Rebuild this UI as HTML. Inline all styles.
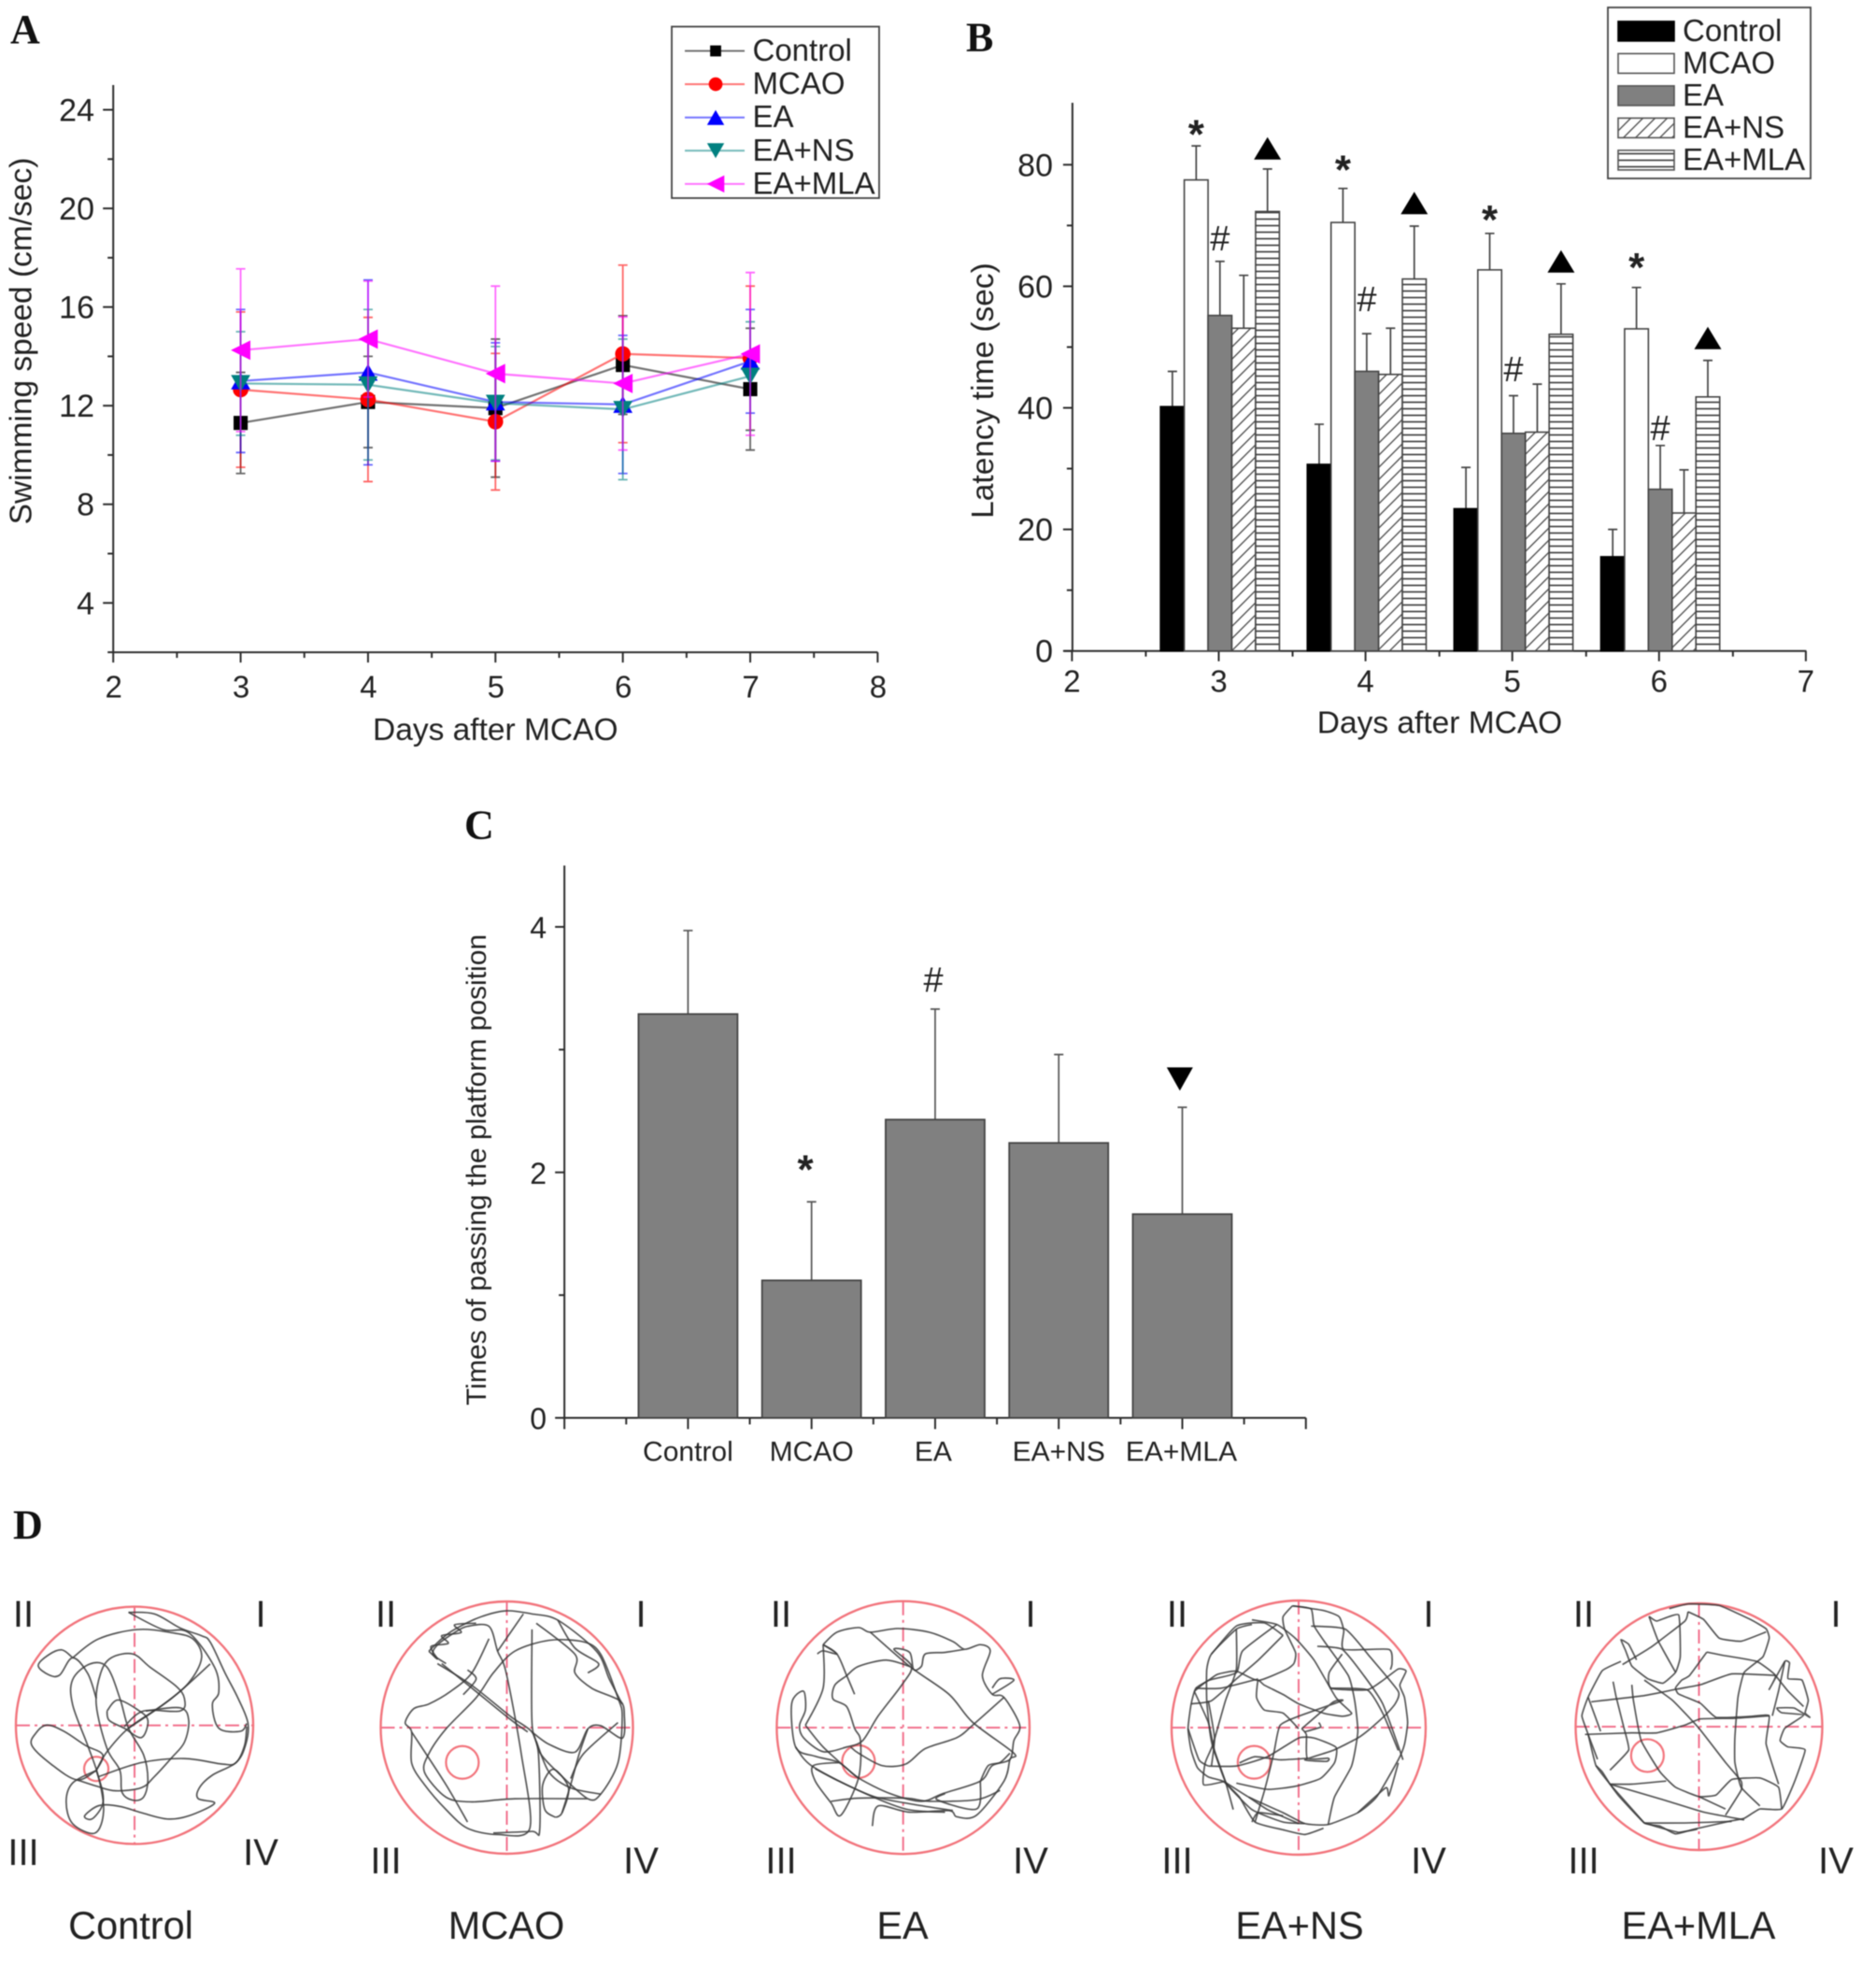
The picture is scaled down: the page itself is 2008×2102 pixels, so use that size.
<!DOCTYPE html>
<html lang="en">
<head>
<meta charset="utf-8">
<title>Behavioural test figure: panels A to D</title>
<style>
html,body{margin:0;padding:0;background:#fff;}
#figure{display:block;width:2008px;height:2102px;filter:blur(0.55px);}
text{font-family:"Liberation Sans",sans-serif;fill:#222;}
.panel{font-family:"Liberation Serif",serif;font-weight:bold;font-size:44px;fill:#111;}
</style>
</head>
<body>
<svg id="figure" xmlns="http://www.w3.org/2000/svg" width="2008" height="2102" viewBox="0 0 2008 2102">
<defs>
<pattern id="hatch-diag" patternUnits="userSpaceOnUse" width="13" height="13">
<rect width="13" height="13" fill="#fff"/>
<path d="M-2 15L15 -2M-8 8L8 -8M5 21L21 5" stroke="#555" stroke-width="1.4" fill="none"/>
</pattern>
<pattern id="hatch-horiz" patternUnits="userSpaceOnUse" width="8" height="7">
<rect width="8" height="7" fill="#fff"/>
<path d="M0 3.5H8" stroke="#444" stroke-width="1.7" fill="none"/>
</pattern>
</defs>
<rect width="2008" height="2102" fill="#fff"/>
<text class="panel" x="11" y="46">A</text>
<text class="panel" x="1034" y="54.5">B</text>
<text class="panel" x="497" y="897.5">C</text>
<text class="panel" x="14" y="1646.5">D</text>
<g id="panel-a"></g>
<g id="panel-b"></g>
<g id="panel-c"></g>
<g id="panel-d"></g>
</svg>
<script>
/* ---------- Panel A data ---------- */
const speedDays = [3, 4, 5, 6, 7];
const groupNames = ['Control', 'MCAO', 'EA', 'EA+NS', 'EA+MLA'];
const speedControl = [11.3, 12.15, 11.9, 13.65, 12.67];
const speedMcao = [12.65, 12.25, 11.35, 14.1, 13.93];
const speedEa = [13.0, 13.35, 12.15, 12.05, 13.8];
const speedNs = [12.9, 12.85, 12.1, 11.85, 13.2];
const speedMla = [14.25, 14.7, 13.3, 12.9, 14.1];
const speedControlErr = [2.05, 1.85, 2.8, 2.0, 2.47];
const speedMcaoErr = [3.15, 3.33, 2.77, 3.6, 2.92];
const speedEaErr = [2.9, 3.75, 2.4, 2.8, 2.1];
const speedNsErr = [2.1, 3.05, 2.3, 2.85, 2.2];
const speedMlaErr = [3.3, 2.35, 3.55, 2.7, 3.3];
const speedXTicks = [2, 3, 4, 5, 6, 7, 8];
const speedYTicks = [4, 8, 12, 16, 20, 24];
const speedYMinor = [2, 6, 10, 14, 18, 22];

/* ---------- Panel B data ---------- */
const latencyDays = [3, 4, 5, 6];
const latencyControl = [40.2, 30.7, 23.4, 15.5];
const latencyMcao = [77.5, 70.5, 62.7, 53.0];
const latencyEa = [55.2, 46.0, 35.8, 26.6];
const latencyNs = [53.1, 45.5, 36.0, 22.7];
const latencyMla = [72.3, 61.2, 52.1, 41.8];
const latencyControlTop = [46.0, 37.3, 30.2, 20.0];
const latencyMcaoTop = [83.1, 76.1, 68.7, 59.8];
const latencyEaTop = [64.1, 52.2, 42.0, 33.8];
const latencyNsTop = [61.8, 53.1, 43.9, 29.8];
const latencyMlaTop = [79.3, 69.9, 60.4, 47.8];
const latencyStarAt = [86.6, 80.7, 72.5, 64.7];
const latencyHashAt = [67.9, 57.9, 46.4, 36.7];
const latencyTriangleAt = [82.7, 73.7, 64.1, 51.5];
const latencyXTicks = [2, 3, 4, 5, 6, 7];
const latencyYTicks = [0, 20, 40, 60, 80];
const latencyYMinor = [10, 30, 50, 70];

/* ---------- Panel C data ---------- */
const crossingValues = [3.29, 1.12, 2.43, 2.24, 1.66];
const crossingTops = [3.97, 1.76, 3.33, 2.96, 2.53];
const crossingYTicks = [0, 2, 4];
const crossingYMinor = [1, 3];

/* ---------- Panel D tracked paths (tracker image coordinates) ---------- */
const controlTrack = [
 [300,345,360,350,420,395,470,420,490,440,525,540,555,620,578,700,572,770,550,825,495,865,465,905,462,940,500,955,440,995,390,1005,330,985,280,965,232,962,198,995,215,1005,238,965,240,920,225,850],
 [225,850,170,890,155,950,170,1020,222,1050,242,980,230,870,205,770,170,640,170,560,210,510,250,520,280,620,300,715,335,800,345,880,335,935,310,945,285,920,280,850,250,780,225,640,235,540,260,490,310,478,350,520,410,580,430,620,420,660,335,660,290,710],
 [225,850,180,880,120,830,75,770,85,730,110,705,150,725,200,770,240,800,225,850],
 [170,490,145,465,115,480,90,515,115,545,140,545,170,490,205,540,225,620],
 [170,490,230,430,320,400,400,410,450,430,470,490,440,570,380,640,300,715,250,790,225,850],
 [300,345,380,400,440,410,500,520,510,600,495,640,510,715,560,725,575,700],
 [250,660,275,625,320,655,345,690,330,745,290,715,255,690,250,660],
 [340,660,420,650,440,690,430,760,400,810,360,870,330,905,270,915,225,900,180,880],
 [300,715,400,620,490,510],
 [230,870,330,825,430,812,520,830,550,825,570,770,575,710]
];
const mcaoTrack = [
 [1295,1005,1270,980,1265,900,1290,850,1325,910,1310,990,1295,1005],
 [1020,510,1100,580,1190,680,1240,730,1260,800,1300,860,1370,945,1400,930,1440,830,1450,680,1440,620,1400,480,1360,440,1280,435,1200,470,1150,540,1110,620,1040,720,1000,800,990,860,1040,940,1100,955,1200,945,1370,945],
 [1000,470,1030,430,1060,400,1120,360,1180,340,1240,350,1300,370,1390,470,1420,560,1450,640],
 [1040,510,1010,480,1020,450,1060,410,1090,390,1140,390,1160,470,1180,540,1215,800,1235,1040,1160,1060,1090,1040,1040,980,990,900,960,830,960,730,945,700,965,655,1000,640,1050,600,1100,540,1140,430],
 [1240,400,1240,700,1255,800,1258,1045,1240,1050,1150,1055],
 [960,730,1040,900,1090,1020],
 [1250,380,1340,480,1340,540,1380,590,1445,630,1455,680,1450,750,1400,710,1370,720,1340,795,1280,770,1240,730],
 [1370,720,1350,800,1330,900,1310,990],
 [1300,370,1340,460,1395,510,1370,540],
 [1000,470,1020,495,1005,455,1045,445,1030,420,1075,410,1060,385,1110,380],
 [1030,510,1110,600,1190,690,1230,730],
 [1080,610,1110,560,1090,530],
 [1160,470,1220,350],
 [1440,700,1360,800,1330,880],
 [1250,760,1280,860,1330,910,1400,930]
];
const eaTrack = [
 [430,210,465,170,520,155,550,170,620,158,700,170,760,200,790,225,830,210,855,230,835,310,860,370,890,380,930,470,915,520,905,580,860,600,830,650,735,690,680,715,600,690,520,640,470,590,410,570,360,540,350,400,380,360,385,420,370,470,380,510,430,555,490,540,530,520,570,440,630,340,655,280,610,225,650,235,660,290,680,280,690,240,740,235,790,225],
 [650,280,590,260,520,280,490,310,460,340,455,385,490,410,510,480,525,520,520,640,475,760,450,720,410,650,405,600,470,590],
 [550,170,650,280,750,370,810,460,915,560,905,580,890,650,820,760,770,765,750,745,650,750,570,730,555,795],
 [430,210,465,240,490,310,510,370],
 [430,210,430,350,385,470],
 [450,715,520,705,640,705,700,715,820,710,880,680],
 [860,370,915,325,880,320,860,350],
 [890,380,810,470,770,510,690,545,640,595,580,600,520,560,500,540],
 [415,240,430,230,465,240,430,210],
 [410,610,470,650,560,700,660,725,760,745],
 [360,540,400,600,520,680,640,740,740,750],
 [385,470,430,540,500,620,520,640],
 [830,650,850,600,880,590,905,560],
 [740,690,720,710,820,740,830,650]
];
const nsTrack = [
 [430,25,400,60,405,100,440,175,435,210,410,230,320,265,250,235,190,245,160,265,120,290,105,340,95,420,105,490,125,545,160,575,210,590,290,640,400,690,470,725,545,728,640,690,700,640,770,520,790,470,800,400,790,320,775,280,795,235,770,228,720,265,670,295,555,290,548,240,590,180],
 [430,25,490,35,500,90,540,150,610,250,630,330,640,430,620,540,565,640,545,728],
 [430,25,530,40,580,60,595,105,595,165,740,165,750,210,745,230],
 [510,155,590,165,660,250,720,340,775,490,785,520],
 [490,90,600,100,680,190,770,300,760,340,730,375,680,420,640,450,560,490,470,520,540,525,545,515,478,515,475,440,460,420],
 [300,85,250,100,170,180,155,230,155,330,165,430,175,480,215,590,260,640,310,720,400,745,470,760,530,740],
 [300,70,380,85,440,130,500,200,570,320,620,370,590,380,530,370,450,340,400,310,340,280,320,265,315,320,340,360,400,370,450,420],
 [250,100,250,230,215,330,175,470,150,530,145,600,210,590],
 [115,300,160,400,180,490,215,590,240,680],
 [380,85,270,170,250,240,160,265,115,300],
 [170,180,250,90,340,80,400,120],
 [460,420,560,335,590,330,450,380,390,410,370,500,340,620,310,720],
 [160,540,250,540,350,510,450,450,500,450,570,480,565,530,520,580,440,605,350,615,250,595],
 [470,430,520,415,515,400],
 [260,530,310,510,390,520,480,515],
 [290,640,350,680,450,725],
 [640,690,730,610,740,635,770,530],
 [105,340,170,330,250,260,320,200,400,120],
 [120,290,200,290,320,260],
 [95,420,130,520,160,540],
 [160,330,180,450,170,540],
 [210,590,300,680,400,720,470,725],
 [550,290,670,295,720,370,770,490],
 [300,720,320,690,400,700]
];
const mlaTrack = [
 [380,45,370,75,260,160,170,215],
 [320,35,380,20,480,25,580,70,630,100,640,130,620,190,560,240,540,320,530,450,530,530,550,610,610,670],
 [380,45,430,70,480,130,550,140,630,110],
 [255,60,280,75,350,55,355,190,340,240,300,275,250,260,200,220,180,170,165,135,190,150,215,200],
 [255,60,285,140,340,240],
 [440,175,490,185,600,205,660,250,640,295,690,205,705,210,700,260,745,265,765,330,755,370,770,385,720,355,665,355,680,370,750,378,690,420,675,460,700,480,755,490,720,595,680,680,610,680,560,710,510,720,400,745,340,760,290,735,240,725,160,640,130,600,85,540,60,440,40,380,60,320,105,235,165,205],
 [440,175,385,250,360,265,340,290,350,310,420,340,470,385,580,382,640,380,630,470,670,600],
 [660,250,520,245,420,280,340,295,240,315,70,335],
 [50,440,200,435,280,435,370,410,420,390,530,388,640,380],
 [200,280,205,330,230,460,290,560,340,610,415,640,470,635,520,585,610,580,670,610,680,680],
 [140,270,150,320,175,420,190,490,130,555],
 [240,265,330,330,415,420,500,530,550,590,550,620,500,700],
 [130,600,200,600,310,590],
 [130,600,300,650,430,690,560,715],
 [240,725,370,725,520,720],
 [415,640,500,680],
 [85,540,105,560,130,600],
 [60,320,100,430],
 [240,725,290,740,350,755,410,745],
 [130,600,240,725],
 [660,250,700,300,750,350],
 [690,205,670,300,650,380],
 [60,440,90,520]
];
const trackSets = [controlTrack, mcaoTrack, eaTrack, nsTrack, mlaTrack];
const platformX = [225, 1078, 520, 307, 250];
const platformY = [845, 828, 587, 528, 508];
const trackerXMin = [38, 888, 312, 42, 20];
const trackerXMax = [590, 1475, 955, 858, 810];
const trackerYMin = [327, 310, 70, 8, 18];
const trackerYMax = [1085, 1122, 885, 825, 812];
const quadrantLabels = ['II', 'I', 'III', 'IV'];

/* ---------- helpers ---------- */
const SVGNS = 'http://www.w3.org/2000/svg';
function mk(tag, attrs, parent, txt) {
  const node = document.createElementNS(SVGNS, tag);
  for (const k in attrs) node.setAttribute(k, attrs[k]);
  if (txt !== undefined) node.textContent = txt;
  parent.appendChild(node);
  return node;
}
function linear(d0, d1, r0, r1) {
  return function (v) { return r0 + (v - d0) * (r1 - r0) / (d1 - d0); };
}
function trianglePoints(cx, cy, w, h, down) {
  const dir = down ? -1 : 1;
  return (cx - w / 2) + ',' + (cy + dir * h / 2) + ' ' + (cx + w / 2) + ',' + (cy + dir * h / 2) + ' ' + cx + ',' + (cy - dir * h / 2);
}
function axisLine(parent, x1, y1, x2, y2, w) {
  return mk('line', {x1: x1, y1: y1, x2: x2, y2: y2, stroke: '#2c2c2c', 'stroke-width': w || 2}, parent);
}
/* Catmull-Rom smoothing so hand-read track samples read as a curved swim path */
function smoothPath(xs, ys, tension) {
  let d = 'M' + xs[0] + ' ' + ys[0];
  const n = xs.length;
  for (let i = 0; i < n - 1; i++) {
    const i0 = Math.max(0, i - 1), i3 = Math.min(n - 1, i + 2);
    const c1x = xs[i] + (xs[i + 1] - xs[i0]) * tension / 6;
    const c1y = ys[i] + (ys[i + 1] - ys[i0]) * tension / 6;
    const c2x = xs[i + 1] - (xs[i3] - xs[i]) * tension / 6;
    const c2y = ys[i + 1] - (ys[i3] - ys[i]) * tension / 6;
    d += 'C' + c1x + ' ' + c1y + ' ' + c2x + ' ' + c2y + ' ' + xs[i + 1] + ' ' + ys[i + 1];
  }
  return d;
}

/* ---------- Panel A ---------- */
(function () {
  const g = document.getElementById('panel-a');
  const X = linear(2, 8, 121.2, 939.4);
  const Y = linear(4, 24, 645.3, 117.5);
  const yBase = Y(2);
  const yAxis = axisLine(g, X(2), 91, X(2), yBase);
  
  
  const xAxis = axisLine(g, X(2), yBase, X(8), yBase);
  
  
  speedYTicks.forEach(function (v) {
    const t = axisLine(g, X(2) - 11, Y(v), X(2), Y(v));
    
    
    const l = mk('text', {x: 101, y: Y(v) + 12, 'text-anchor': 'end', 'font-size': 34}, g, String(v));
    
    
  });
  speedYMinor.forEach(function (v) {
    const t = axisLine(g, X(2) - 6, Y(v), X(2), Y(v));
    
    
  });
  speedXTicks.forEach(function (v, i) {
    const t = axisLine(g, X(v), yBase, X(v), yBase + 11);
    
    
    const l = mk('text', {x: X(v) + 0.5, y: 746.5, 'text-anchor': 'middle', 'font-size': 33}, g, String(v));
    
    
    if (i < speedXTicks.length - 1) {
      const m = axisLine(g, X(v + 0.5), yBase, X(v + 0.5), yBase + 6);
      
      
    }
  });
  const xt = mk('text', {x: X(5), y: 792, 'text-anchor': 'middle', 'font-size': 33.5}, g, 'Days after MCAO');
  
  
  const yt = mk('text', {transform: 'translate(33.5 365) rotate(-90)', 'text-anchor': 'middle', 'font-size': 33.5}, g, 'Swimming speed (cm/sec)');
  
  

  const means = [speedControl, speedMcao, speedEa, speedNs, speedMla];
  const errs = [speedControlErr, speedMcaoErr, speedEaErr, speedNsErr, speedMlaErr];
  const colors = ['#000000', '#ff0000', '#0000ff', '#008080', '#ff00ff'];
  function marker(parent, idx, x, y, size) {
    if (idx === 0) return mk('rect', {x: x - size * 0.42, y: y - size * 0.42, width: size * 0.84, height: size * 0.84, fill: colors[idx]}, parent);
    if (idx === 1) return mk('circle', {cx: x, cy: y, r: size * 0.46, fill: colors[idx]}, parent);
    if (idx === 2) return mk('polygon', {points: trianglePoints(x, y, size * 1.15, size, false), fill: colors[idx]}, parent);
    if (idx === 3) return mk('polygon', {points: trianglePoints(x, y, size * 1.15, size, true), fill: colors[idx]}, parent);
    const s = size * 0.58;
    return mk('polygon', {points: (x - s) + ',' + y + ' ' + (x + s) + ',' + (y - s) + ' ' + (x + s) + ',' + (y + s), fill: colors[idx]}, parent);
  }
  means.forEach(function (series, si) {
    const sg = mk('g', {}, g);
    
    
    series.forEach(function (v, i) {
      const x = X(speedDays[i]);
      const hi = Y(v + errs[si][i]);
      const lo = Y(v - errs[si][i]);
      const bar = mk('path', {d: 'M' + x + ' ' + hi + 'V' + lo + 'M' + (x - 5) + ' ' + hi + 'H' + (x + 5) + 'M' + (x - 5) + ' ' + lo + 'H' + (x + 5), stroke: colors[si], 'stroke-opacity': 0.6, 'stroke-width': 1.8, fill: 'none'}, sg);
      
      
    });
    const pts = series.map(function (v, i) { return X(speedDays[i]) + ',' + Y(v); }).join(' ');
    const line = mk('polyline', {points: pts, fill: 'none', stroke: colors[si], 'stroke-opacity': 0.55, 'stroke-width': 2.2}, sg);
    
    
    series.forEach(function (v, i) {
      const p = marker(sg, si, X(speedDays[i]), Y(v), 18);
      
      
    });
  });
  const box = mk('rect', {x: 719, y: 28.5, width: 222, height: 183.5, fill: '#fff', stroke: '#444', 'stroke-width': 1.8}, g);
  
  
  groupNames.forEach(function (name, i) {
    const rowY = 54.5 + i * 35.6;
    const lg = mk('g', {}, g);
    
    
    const sample = mk('line', {x1: 733, y1: rowY, x2: 797, y2: rowY, stroke: colors[i], 'stroke-opacity': 0.55, 'stroke-width': 2}, lg);
    
    
    const mm = marker(lg, i, 766, rowY, i === 0 ? 14 : 16);
    
    
    const tx = mk('text', {x: 805.5, y: rowY + 10.5, 'font-size': 33}, lg, name);
    
    
  });
})();

/* ---------- Panel B ---------- */
(function () {
  const g = document.getElementById('panel-b');
  const X = linear(2, 7, 1147.9, 1933.4);
  const Y = linear(0, 80, 696.7, 176.3);
  const base = Y(0);
  const ya = axisLine(g, X(2), 110, X(2), base);
  
  
  const xa = axisLine(g, X(2) - 9, base, X(7), base);
  
  
  latencyYTicks.forEach(function (v) {
    const t = axisLine(g, X(2) - 10, Y(v), X(2), Y(v));
    
    
    const l = mk('text', {x: 1127, y: Y(v) + 12, 'text-anchor': 'end', 'font-size': 34}, g, String(v));
    
    
  });
  latencyYMinor.forEach(function (v) {
    const t = axisLine(g, X(2) - 6, Y(v), X(2), Y(v));
    
    
  });
  latencyXTicks.forEach(function (v, i) {
    const t = axisLine(g, X(v) - 0.5, base, X(v) - 0.5, base + 11);
    
    
    const l = mk('text', {x: X(v) - 0.5, y: 740.5, 'text-anchor': 'middle', 'font-size': 33}, g, String(v));
    
    
    if (i < latencyXTicks.length - 1) {
      const m = axisLine(g, X(v + 0.5), base, X(v + 0.5), base + 6);
      
      
    }
  });
  const xt = mk('text', {x: 1541, y: 784.5, 'text-anchor': 'middle', 'font-size': 33.5}, g, 'Days after MCAO');
  
  
  const yt = mk('text', {transform: 'translate(1063 418) rotate(-90)', 'text-anchor': 'middle', 'font-size': 33.5}, g, 'Latency time (sec)');
  
  

  const values = [latencyControl, latencyMcao, latencyEa, latencyNs, latencyMla];
  const tops = [latencyControlTop, latencyMcaoTop, latencyEaTop, latencyNsTop, latencyMlaTop];
  const fills = ['#000000', '#ffffff', '#808080', 'url(#hatch-diag)', 'url(#hatch-horiz)'];
  const barUnit = 0.162;
  const barPx = X(2 + barUnit) - X(2);
  const barStart = -0.4;
  latencyDays.forEach(function (day, di) {
    values.forEach(function (series, si) {
      const left = X(day + barStart + si * barUnit);
      const mid = left + barPx / 2;
      const eb = mk('path', {d: 'M' + mid + ' ' + Y(tops[si][di]) + 'V' + Y(series[di]) + 'M' + (mid - 5) + ' ' + Y(tops[si][di]) + 'H' + (mid + 5), stroke: '#444', 'stroke-width': 1.7, fill: 'none'}, g);
      
      
      const b = mk('rect', {x: left, y: Y(series[di]), width: barPx, height: base - Y(series[di]), fill: fills[si], stroke: si === 0 ? '#000' : '#444', 'stroke-width': 1.6}, g);
      
      
    });
    const starX = X(day + barStart + 1.5 * barUnit);
    const star = mk('text', {x: starX, y: Y(latencyStarAt[di]) + 25, 'text-anchor': 'middle', 'font-size': 44, 'font-weight': 'bold'}, g, '*');
    
    
    const hashX = X(day + barStart + 2.5 * barUnit);
    const hash = mk('text', {x: hashX, y: Y(latencyHashAt[di]) + 13, 'text-anchor': 'middle', 'font-size': 38, 'fill': '#333'}, g, '#');
    
    
    const triX = X(day + barStart + 4.5 * barUnit);
    const tri = mk('polygon', {points: trianglePoints(triX, Y(latencyTriangleAt[di]), 29, 24, false), fill: '#000'}, g);
    
    
  });
  const box = mk('rect', {x: 1721, y: 8, width: 217, height: 183, fill: '#fff', stroke: '#444', 'stroke-width': 1.8}, g);
  
  
  groupNames.forEach(function (name, i) {
    const rowY = 33.4 + i * 34.5;
    const lg = mk('g', {}, g);
    
    
    const sw = mk('rect', {x: 1732, y: rowY - 10.5, width: 60, height: 21, fill: fills[i], stroke: i === 0 ? '#000' : '#555', 'stroke-width': 1.6}, lg);
    
    
    const tx = mk('text', {x: 1801, y: rowY + 10.5, 'font-size': 33}, lg, name);
    
    
  });
})();

/* ---------- Panel C ---------- */
(function () {
  const g = document.getElementById('panel-c');
  const X = linear(0, 4, 736.4, 1265.5);
  const Y = linear(0, 4, 1517.5, 992);
  const base = Y(0);
  const ya = axisLine(g, X(-1), Y(4.5), X(-1), base);
  
  
  const xa = axisLine(g, X(-1) - 9, base, X(5), base);
  
  
  crossingYTicks.forEach(function (v) {
    const t = axisLine(g, X(-1) - 10, Y(v), X(-1), Y(v));
    
    
    const l = mk('text', {x: 585, y: Y(v) + 12, 'text-anchor': 'end', 'font-size': 32}, g, String(v));
    
    
  });
  crossingYMinor.forEach(function (v) {
    const t = axisLine(g, X(-1) - 6, Y(v), X(-1), Y(v));
    
    
  });
  for (let k = -1; k <= 5; k++) {
    const t = axisLine(g, X(k), base, X(k), base + 12);
    
    
    if (k < 5) {
      const m = axisLine(g, X(k + 0.5), base, X(k + 0.5), base + 7);
      
      
    }
  }
  const yt = mk('text', {transform: 'translate(520 1252) rotate(-90)', 'text-anchor': 'middle', 'font-size': 30}, g, 'Times of passing the platform position');
  
  
  const barW = 106;
  crossingValues.forEach(function (v, i) {
    const eb = mk('path', {d: 'M' + X(i) + ' ' + Y(crossingTops[i]) + 'V' + Y(v) + 'M' + (X(i) - 5) + ' ' + Y(crossingTops[i]) + 'H' + (X(i) + 5), stroke: '#555', 'stroke-width': 1.7, fill: 'none'}, g);
    
    
    const b = mk('rect', {x: X(i) - barW / 2, y: Y(v), width: barW, height: base - Y(v), fill: '#808080', stroke: '#444', 'stroke-width': 1.8}, g);
    
    
    const l = mk('text', {x: X(i) - (i === 2 ? 2 : 0) - (i === 4 ? 1 : 0), y: 1563.5, 'text-anchor': 'middle', 'font-size': 30}, g, groupNames[i]);
    
    
  });
  const star = mk('text', {x: X(0.95), y: Y(2.1) + 25, 'text-anchor': 'middle', 'font-size': 44, 'font-weight': 'bold'}, g, '*');
  
  
  const hash = mk('text', {x: X(1.986), y: Y(3.57) + 13, 'text-anchor': 'middle', 'font-size': 38, 'fill': '#333'}, g, '#');
  
  
  const tri = mk('polygon', {points: trianglePoints(X(3.98), Y(2.76), 28, 25, true), fill: '#000'}, g);
  
  
})();

/* ---------- Panel D ---------- */
(function () {
  const g = document.getElementById('panel-d');
  const centerX = [144, 542.5, 966.7, 1390, 1818.5];
  const centerY = [1846.6, 1849, 1849, 1849, 1848];
  const radius = [127, 135, 135.3, 136, 132];
  const leftLabelX = [25, 413, 836, 1260, 1695];
  const rightLabelX = [279, 686, 1103, 1529, 1965];
  const lowerBaseline = [1996, 2005, 2005, 2005, 2005];
  const nameX = [140, 542, 966, 1391, 1818];
  const smoothing = [1, 0.9, 0.9, 0.55, 0.4];
  trackSets.forEach(function (paths, a) {
    const ag = mk('g', {}, g);
    
    
    const cx = centerX[a], cy = centerY[a], r = radius[a];
    const X = linear(trackerXMin[a], trackerXMax[a], cx - r, cx + r);
    const Y = linear(trackerYMin[a], trackerYMax[a], cy - r, cy + r);
    const h = mk('line', {x1: cx - r, y1: cy, x2: cx + r, y2: cy, stroke: '#f2708c', 'stroke-width': 2, 'stroke-dasharray': '15 5 3 5'}, ag);
    
    
    const v = mk('line', {x1: cx, y1: cy - r, x2: cx, y2: cy + r, stroke: '#f2708c', 'stroke-width': 2, 'stroke-dasharray': '15 5 3 5'}, ag);
    
    
    const pool = mk('circle', {cx: cx, cy: cy, r: r, fill: 'none', stroke: '#f2747c', 'stroke-width': 2.4}, ag);
    
    
    const platformR = a === 0 ? 13 : 17.5;
    const plat = mk('circle', {cx: X(platformX[a]), cy: Y(platformY[a]), r: platformR, fill: 'none', stroke: '#f2747c', 'stroke-width': 2.2}, ag);
    
    
    paths.forEach(function (flat) {
      const xs = [], ys = [];
      for (let i = 0; i + 1 < flat.length; i += 2) {
        xs.push(X(flat[i]));
        ys.push(Y(flat[i + 1]));
      }
      const tr = mk('path', {d: smoothPath(xs, ys, smoothing[a]), fill: 'none', stroke: '#3a3a3a', 'stroke-opacity': 0.85, 'stroke-width': 1.7, 'stroke-linejoin': 'round'}, ag);
      
      
    });
    const labelX = [leftLabelX[a], rightLabelX[a], leftLabelX[a], rightLabelX[a]];
    const labelY = [1741, 1741, lowerBaseline[a], lowerBaseline[a]];
    quadrantLabels.forEach(function (q, i) {
      const t = mk('text', {x: labelX[i], y: labelY[i], 'text-anchor': 'middle', 'font-size': 40, 'fill': '#111'}, ag, q);
      
      
    });
    const nm = mk('text', {x: nameX[a], y: 2075, 'text-anchor': 'middle', 'font-size': 41.5, 'fill': '#111'}, ag, groupNames[a]);
    
    
  });
})();
</script>
</body>
</html>
